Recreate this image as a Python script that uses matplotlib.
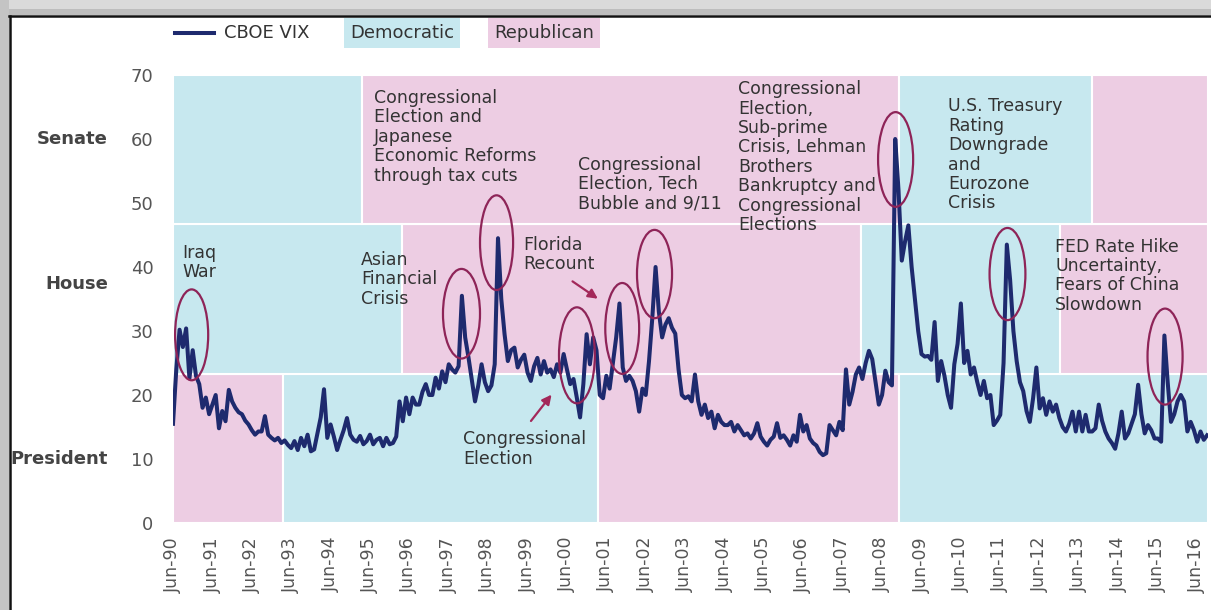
import numpy as np
import matplotlib.pyplot as plt
from matplotlib.patches import Rectangle, Ellipse
from matplotlib.lines import Line2D
from matplotlib.transforms import blended_transform_factory

plt.rcParams['font.family'] = ['DejaVu Sans']

# monthly CBOE VIX, Jun-1990 .. Sep-2016
vix_1990 = [15.5, 24.0, 30.2, 27.5, 30.4, 22.6, 27.0]
vix_1991 = [23.0, 21.7, 18.0, 19.6, 17.0, 18.5, 20.0, 14.8, 17.5, 15.9, 20.8, 19.0]
vix_1992 = [18.0, 17.3, 17.0, 16.0, 15.4, 14.5, 13.8, 14.3, 14.3, 16.7, 13.8, 13.3]
vix_1993 = [12.9, 13.3, 12.5, 12.9, 12.2, 11.7, 12.8, 11.4, 13.3, 12.0, 13.8, 11.2]
vix_1994 = [11.5, 14.0, 16.5, 20.9, 13.3, 15.4, 13.5, 11.4, 13.0, 14.5, 16.4, 13.8]
vix_1995 = [13.0, 12.7, 13.6, 12.3, 12.8, 13.8, 12.3, 13.0, 13.3, 12.0, 13.3, 12.3]
vix_1996 = [12.5, 13.5, 19.0, 15.9, 19.6, 17.0, 19.6, 18.5, 18.5, 20.5, 21.7, 20.0]
vix_1997 = [20.0, 22.7, 21.0, 23.7, 22.0, 24.8, 24.0, 23.5, 24.5, 35.5, 29.0, 25.9]
vix_1998 = [22.5, 19.0, 21.5, 24.8, 22.0, 20.6, 21.5, 24.8, 44.5, 35.0, 29.5, 25.3]
vix_1999 = [27.0, 27.4, 24.3, 25.5, 26.3, 23.5, 22.2, 24.5, 25.8, 23.2, 25.3, 23.5]
vix_2000 = [24.0, 22.8, 24.8, 23.5, 26.4, 24.0, 21.7, 22.5, 19.6, 16.5, 21.7, 29.5]
vix_2001 = [24.8, 29.0, 27.0, 20.0, 19.5, 23.0, 21.0, 25.0, 29.0, 34.3, 24.3, 22.2]
vix_2002 = [23.0, 22.2, 20.6, 17.4, 21.0, 20.0, 25.3, 32.0, 40.0, 33.0, 29.0, 31.0]
vix_2003 = [32.0, 30.5, 29.6, 24.0, 20.0, 19.5, 19.8, 19.0, 23.2, 19.0, 16.9, 18.5]
vix_2004 = [16.4, 17.4, 14.8, 16.9, 15.8, 15.3, 15.3, 15.8, 14.3, 15.3, 14.5, 13.7]
vix_2005 = [14.0, 13.2, 14.0, 15.6, 13.5, 12.7, 12.1, 13.0, 13.5, 15.6, 13.3, 13.7]
vix_2006 = [13.0, 12.1, 13.7, 12.7, 16.9, 14.3, 15.3, 13.2, 12.5, 12.1, 11.1, 10.6]
vix_2007 = [10.9, 15.3, 14.5, 13.7, 15.8, 14.5, 24.0, 18.5, 20.5, 23.2, 24.3, 22.5]
vix_2008 = [25.0, 26.9, 25.6, 22.0, 18.5, 20.0, 23.8, 22.0, 21.5, 60.0, 52.0, 41.0]
vix_2009 = [44.0, 46.5, 40.0, 35.0, 30.0, 26.4, 26.0, 26.1, 25.5, 31.4, 22.2, 25.3]
vix_2010 = [23.0, 20.0, 18.0, 24.8, 28.0, 34.3, 25.0, 26.9, 23.2, 24.3, 22.0, 20.0]
vix_2011 = [22.2, 19.5, 20.0, 15.3, 16.0, 16.9, 25.0, 43.5, 38.0, 30.0, 25.3, 22.0]
vix_2012 = [20.6, 17.5, 15.8, 19.5, 24.3, 17.9, 19.5, 16.9, 19.0, 17.4, 18.5, 16.4]
vix_2013 = [15.0, 14.3, 15.5, 17.4, 14.3, 17.4, 14.3, 16.9, 14.3, 14.3, 14.8, 18.5]
vix_2014 = [16.0, 14.3, 13.2, 12.5, 11.6, 14.0, 17.4, 13.2, 14.0, 15.5, 17.0, 21.6]
vix_2015 = [17.0, 14.0, 15.3, 14.5, 13.2, 13.2, 12.7, 29.3, 22.0, 15.8, 17.0, 19.0]
vix_2016 = [20.0, 19.0, 14.3, 15.8, 14.5, 12.7, 14.3, 13.0, 13.7]

vix = np.array(vix_1990 + vix_1991 + vix_1992 + vix_1993 + vix_1994 + vix_1995
               + vix_1996 + vix_1997 + vix_1998 + vix_1999 + vix_2000 + vix_2001
               + vix_2002 + vix_2003 + vix_2004 + vix_2005 + vix_2006 + vix_2007
               + vix_2008 + vix_2009 + vix_2010 + vix_2011 + vix_2012 + vix_2013
               + vix_2014 + vix_2015 + vix_2016)
dates = 1990 + 5 / 12 + np.arange(len(vix)) / 12

# party control, (start, end, party) in decimal years
president = [(1990.42, 1993.21, "R"), (1993.21, 2001.20, "D"), (2001.20, 2008.85, "R"), (2008.85, 2016.69, "D")]
house = [(1990.42, 1996.23, "D"), (1996.23, 2007.88, "R"), (2007.88, 2012.93, "D"), (2012.93, 2016.69, "R")]
senate = [(1990.42, 1995.22, "D"), (1995.22, 2008.85, "R"), (2008.85, 2013.74, "D"), (2013.74, 2016.69, "R")]
row_names = ["President", "House", "Senate"]
row_label_y = [10, 37.3, 60]

tick_years = list(range(1990, 2017))
tick_labels = ["Jun-%02d" % (y % 100) for y in tick_years]

# events: text, text position, ellipse centre, ellipse size
events = [
    ("Iraq\nWar", (1990.65, 43.6), (1990.89, 29.4), (0.84, 14.2)),
    ("Asian\nFinancial\nCrisis", (1995.19, 42.5), (1997.74, 32.7), (0.94, 14.0)),
    ("Congressional\nElection and\nJapanese\nEconomic Reforms\nthrough tax cuts", (1995.52, 67.8), (1998.63, 43.8), (0.84, 14.8)),
    ("Florida\nRecount", (1999.30, 44.9), (2001.82, 30.4), (0.86, 14.2)),
    ("Congressional\nElection, Tech\nBubble and 9/11", (2000.70, 57.4), (2002.64, 38.9), (0.89, 13.8)),
    ("Congressional\nElection,\nSub-prime\nCrisis, Lehman\nBrothers\nBankruptcy and\nCongressional\nElections", (2004.76, 69.2), (2008.76, 56.8), (0.89, 14.8)),
    ("U.S. Treasury\nRating\nDowngrade\nand\nEurozone\nCrisis", (2010.09, 66.5), (2011.60, 38.9), (0.91, 14.4)),
    ("FED Rate Hike\nUncertainty,\nFears of China\nSlowdown", (2012.81, 44.6), (2015.60, 26.0), (0.89, 15.0)),
    ("Congressional\nElection", (1997.78, 14.5), (2000.67, 26.2), (0.91, 15.0)),
]
arrows = [((2000.50, 38.0), (2001.26, 34.8)), ((1999.46, 15.6), (2000.07, 20.4))]

blue = "#c7e8ef"
pink = "#edcde3"
navy = "#1e2a6e"
maroon = "#8e2458"
txt = "#333333"

fig = plt.figure(figsize=(12.11, 6.10), dpi=100)
ax = fig.add_axes([173 / 1211, 87 / 610, 1035 / 1211, 448 / 610])

# party control cells
for r, terms in enumerate([president, house, senate]):
    for start, end, party in terms:
        ax.add_patch(Rectangle((start, r * 70 / 3), end - start, 70 / 3,
                               facecolor=blue if party == "D" else pink,
                               edgecolor="white", linewidth=1.5, zorder=0))

ax.plot(dates, vix, color=navy, lw=2.9, solid_joinstyle="round", zorder=3)

for label, tpos, centre, size in events:
    ax.text(tpos[0], tpos[1], label, ha="left", va="top", fontsize=12.5,
            color=txt, linespacing=1.1, zorder=5)
    ax.add_patch(Ellipse(centre, size[0], size[1], fill=False,
                         edgecolor=maroon, lw=1.6, zorder=4))
for tail, head in arrows:
    ax.annotate("", xy=head, xytext=tail,
                arrowprops=dict(arrowstyle="-|>", color="#a3285a", lw=1.6,
                                mutation_scale=14), zorder=5)

ax.set_xlim(1990 + 5 / 12, 2016.69)
ax.set_ylim(0, 70)
ax.set_yticks(range(0, 71, 10))
ax.tick_params(axis="y", length=0, pad=14, labelsize=13, labelcolor="#555555")
ax.set_xticks([y + 5 / 12 for y in tick_years])
ax.set_xticklabels(tick_labels, rotation=90, fontsize=12.5, color="#555555")
ax.tick_params(axis="x", length=0, pad=10)
for s in ax.spines.values():
    s.set_visible(False)

trans = blended_transform_factory(ax.transAxes, ax.transData)
for name, y in zip(row_names, row_label_y):
    ax.text(-0.063, y, name, transform=trans, ha="right", va="center",
            fontsize=13, fontweight="semibold", color="#444444")

# legend along the top
fig.add_artist(Line2D([175 / 1211, 214 / 1211], [1 - 33 / 610] * 2, color=navy, lw=2.9))
fig.text(224 / 1211, 1 - 33 / 610, "CBOE VIX", ha="left", va="center", fontsize=13, color=txt)
fig.text(350 / 1211, 1 - 33 / 610, "Democratic", ha="left", va="center", fontsize=13, color=txt,
         bbox=dict(boxstyle="square,pad=0.35", facecolor=blue, edgecolor="none"))
fig.text(494 / 1211, 1 - 33 / 610, "Republican", ha="left", va="center", fontsize=13, color=txt,
         bbox=dict(boxstyle="square,pad=0.35", facecolor=pink, edgecolor="none"))

# screenshot-style frame
fig.add_artist(Rectangle((0, 1 - 15 / 610), 1, 15 / 610, transform=fig.transFigure,
                         facecolor="#bdbdbd", edgecolor="none"))
fig.add_artist(Rectangle((0, 1 - 9 / 610), 1, 9 / 610, transform=fig.transFigure,
                         facecolor="#dadada", edgecolor="none"))
fig.add_artist(Rectangle((0, 0), 9 / 1211, 1, transform=fig.transFigure,
                         facecolor="#c4c4c4", edgecolor="none"))
fig.add_artist(Line2D([9 / 1211, 1], [1 - 16 / 610] * 2, color="#111111", lw=1.8))
fig.add_artist(Line2D([10 / 1211] * 2, [0, 1 - 16 / 610], color="#111111", lw=1.8))

fig.savefig("out.png", dpi=100)
